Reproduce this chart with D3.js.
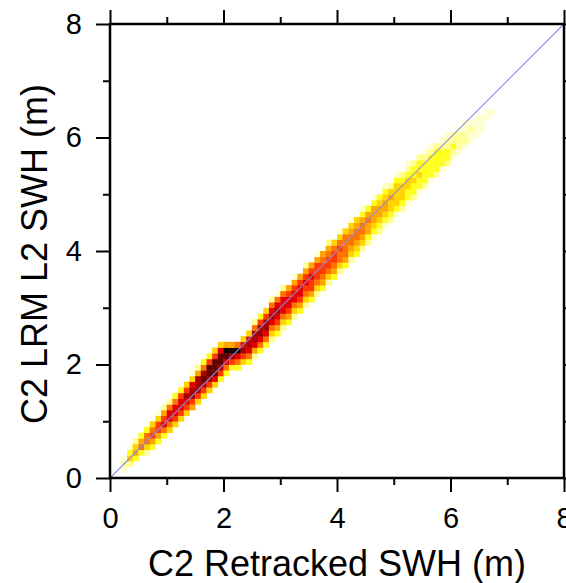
<!DOCTYPE html>
<html>
<head>
<meta charset="utf-8">
<script src="https://cdn.jsdelivr.net/npm/d3@7"></script>
<style>
  html, body { margin: 0; padding: 0; background: #fff; }
  svg { display: block; }
  text { font-family: "Liberation Sans", Arial, Helvetica, sans-serif; fill: #000; }
</style>
</head>
<body>
<svg id="chart" width="566" height="583"></svg>
<script>
// ---- data ----
const binWidth = 0.1;                 // histogram bin size (m)
const majorTicks = [0, 2, 4, 6, 8];
const minorTicks = [1, 3, 5, 7];
const xTitle = "C2 Retracked SWH (m)";
const yTitle = "C2 LRM L2 SWH (m)";
// colour levels (1 = faint, 11 = highest density)
const levelColors = ["#ffffd4", "#ffff94", "#ffff1e", "#ffd400", "#ffa600",
                     "#ff7400", "#ff3a00", "#e20000", "#a80000", "#640000", "#140000"];
// x-bin index of each column
const colIndex = [2,3,4,5,6,7,8,9,10,11,12,13,14,15,16,17,18,19,20,21,22,23,24,25,
  26,27,28,29,30,31,32,33,34,35,36,37,38,39,40,41,42,43,44,45,46,47,48,49,50,
  51,52,53,54,55,56,57,58,59,60,61,62,63,64,65,66,67];
// first y-bin index in each column
const colStart = [1,2,3,4,4,5,6,7,8,9,10,11,12,13,14,15,16,17,18,19,19,20,20,21,
  22,23,24,25,26,27,28,29,30,31,32,33,34,35,36,37,38,39,40,41,42,43,44,45,46,
  47,48,49,50,51,52,53,54,55,56,57,58,59,60,61,63,64];
// density level of each cell in each column, bottom to top
const colLevels = [
  [1,2,1],[2,4,3,1],[3,5,4,2],[3,6,5,3],[2,4,6,6,3],[3,5,7,6,4],[3,5,7,7,4,1],
  [3,6,8,7,5,2],[4,6,8,8,6,2],[4,7,8,8,6,3],[4,7,8,8,7,3],[4,7,8,9,7,4],
  [5,7,9,9,8,4,1],[4,7,9,9,9,5,2],[4,7,9,10,9,6,3],[4,7,9,10,10,7,3],
  [4,8,10,10,10,7,4],[3,7,9,10,10,8,4],[3,6,8,10,11,5],[3,7,9,11,5],
  [3,6,8,11,6],[4,7,9,8,4],[3,6,8,9,8,4],[2,5,8,9,9,6,2],
  [3,6,8,9,9,7,3],[3,6,8,9,9,7,4],[2,4,6,8,9,8,6,2],[3,5,7,8,9,8,6,1],
  [2,4,6,8,8,8,6,2],[3,5,7,8,8,7,5],[2,4,6,8,8,7,5,1],[3,5,7,8,8,7,5],
  [2,4,6,7,8,7,5,2],[3,5,7,7,8,7,5],[2,4,6,7,7,7,5,1],[3,5,6,7,7,6,5],
  [2,4,6,7,7,6,5,2],[3,5,6,7,7,6,4],[2,4,6,6,7,6,4,1],[3,5,6,6,6,6,4],
  [2,4,5,6,6,5,4,1],[3,4,5,6,6,5,4],[2,4,5,6,6,5,3,1],[2,3,5,5,6,5,3],
  [1,3,4,5,5,5,3,1],[2,3,4,5,5,4,3],[1,3,4,5,5,4,3,1],[2,3,4,4,5,4,2],
  [1,3,4,4,4,4,3,1],[2,3,4,4,4,3,2],[1,3,3,4,4,3,2,1],[2,3,3,4,3,3,2],
  [1,3,3,4,3,3,2],[2,3,3,3,3,2,1],[1,3,3,3,3,2,1],[2,3,3,3,3,2],
  [1,3,3,3,2,1],[2,3,3,2,2,1],[1,2,3,2,2],[1,2,2,2,1],[1,2,2,1,1],
  [1,1,2,1],[1,1,1,1],[1,1,1],[1,1],[1]
];

// ---- layout ----
const svg = d3.select("#chart");
const x = d3.scaleLinear().domain([0, 8]).range([110, 564]);
const y = d3.scaleLinear().domain([0, 8]).range([478, 24]);

const cells = [];
colIndex.forEach((ci, k) => {
  colLevels[k].forEach((lev, m) => {
    cells.push({ xb: ci * binWidth, yb: (colStart[k] + m) * binWidth, lev });
  });
});

const cw = x(binWidth) - x(0);
const ch = y(0) - y(binWidth);
svg.append("g").selectAll("rect").data(cells).join("rect")
  .attr("x", d => x(d.xb))
  .attr("y", d => y(d.yb + binWidth))
  .attr("width", cw + 0.4)
  .attr("height", ch + 0.4)
  .attr("fill", d => levelColors[d.lev - 1]);

// 1:1 line
svg.append("line")
  .attr("x1", x(0)).attr("y1", y(0)).attr("x2", x(8)).attr("y2", y(8))
  .attr("stroke", "#8c8ce6").attr("stroke-width", 1.1);

// axes
const fs = "29px";
function styleAxis(g) {
  g.select(".domain").remove();
  g.selectAll("line").attr("stroke", "#000").attr("stroke-width", 2);
  g.selectAll("text").style("font-size", fs).attr("font-family", null);
}
const bottomMajor = d3.axisBottom(x).tickValues(majorTicks).tickSize(14).tickPadding(15).tickFormat(d3.format("d"));
const bottomMinor = d3.axisBottom(x).tickValues(minorTicks).tickSize(7).tickFormat("");
const leftMajor = d3.axisLeft(y).tickValues(majorTicks).tickSize(14).tickPadding(14).tickFormat(d3.format("d"));
const leftMinor = d3.axisLeft(y).tickValues(minorTicks).tickSize(7).tickFormat("");
const topMajor = d3.axisTop(x).tickValues(majorTicks).tickSize(14).tickFormat("");
const topMinor = d3.axisTop(x).tickValues(minorTicks).tickSize(7).tickFormat("");
const rightMajor = d3.axisRight(y).tickValues(majorTicks).tickSize(14).tickFormat("");
const rightMinor = d3.axisRight(y).tickValues(minorTicks).tickSize(7).tickFormat("");

svg.append("g").attr("transform", "translate(0,478)").call(bottomMajor).call(styleAxis);
svg.append("g").attr("transform", "translate(0,478)").call(bottomMinor).call(styleAxis);
svg.append("g").attr("transform", "translate(110,0)").call(leftMajor).call(styleAxis);
svg.append("g").attr("transform", "translate(110,0)").call(leftMinor).call(styleAxis);
svg.append("g").attr("transform", "translate(0,24)").call(topMajor).call(styleAxis);
svg.append("g").attr("transform", "translate(0,24)").call(topMinor).call(styleAxis);
svg.append("g").attr("transform", "translate(564,0)").call(rightMajor).call(styleAxis);
svg.append("g").attr("transform", "translate(564,0)").call(rightMinor).call(styleAxis);

// frame
svg.append("rect")
  .attr("x", x(0)).attr("y", y(8))
  .attr("width", x(8) - x(0)).attr("height", y(0) - y(8))
  .attr("fill", "none").attr("stroke", "#000").attr("stroke-width", 2.5);

// titles
svg.append("text")
  .attr("x", (x(0) + x(8)) / 2).attr("y", 576)
  .attr("text-anchor", "middle").style("font-size", "36px")
  .text(xTitle);
svg.append("text")
  .attr("transform", `translate(47,${(y(0) + y(8)) / 2 + 3}) rotate(-90)`)
  .attr("text-anchor", "middle").style("font-size", "36px")
  .text(yTitle);
</script>
</body>
</html>
